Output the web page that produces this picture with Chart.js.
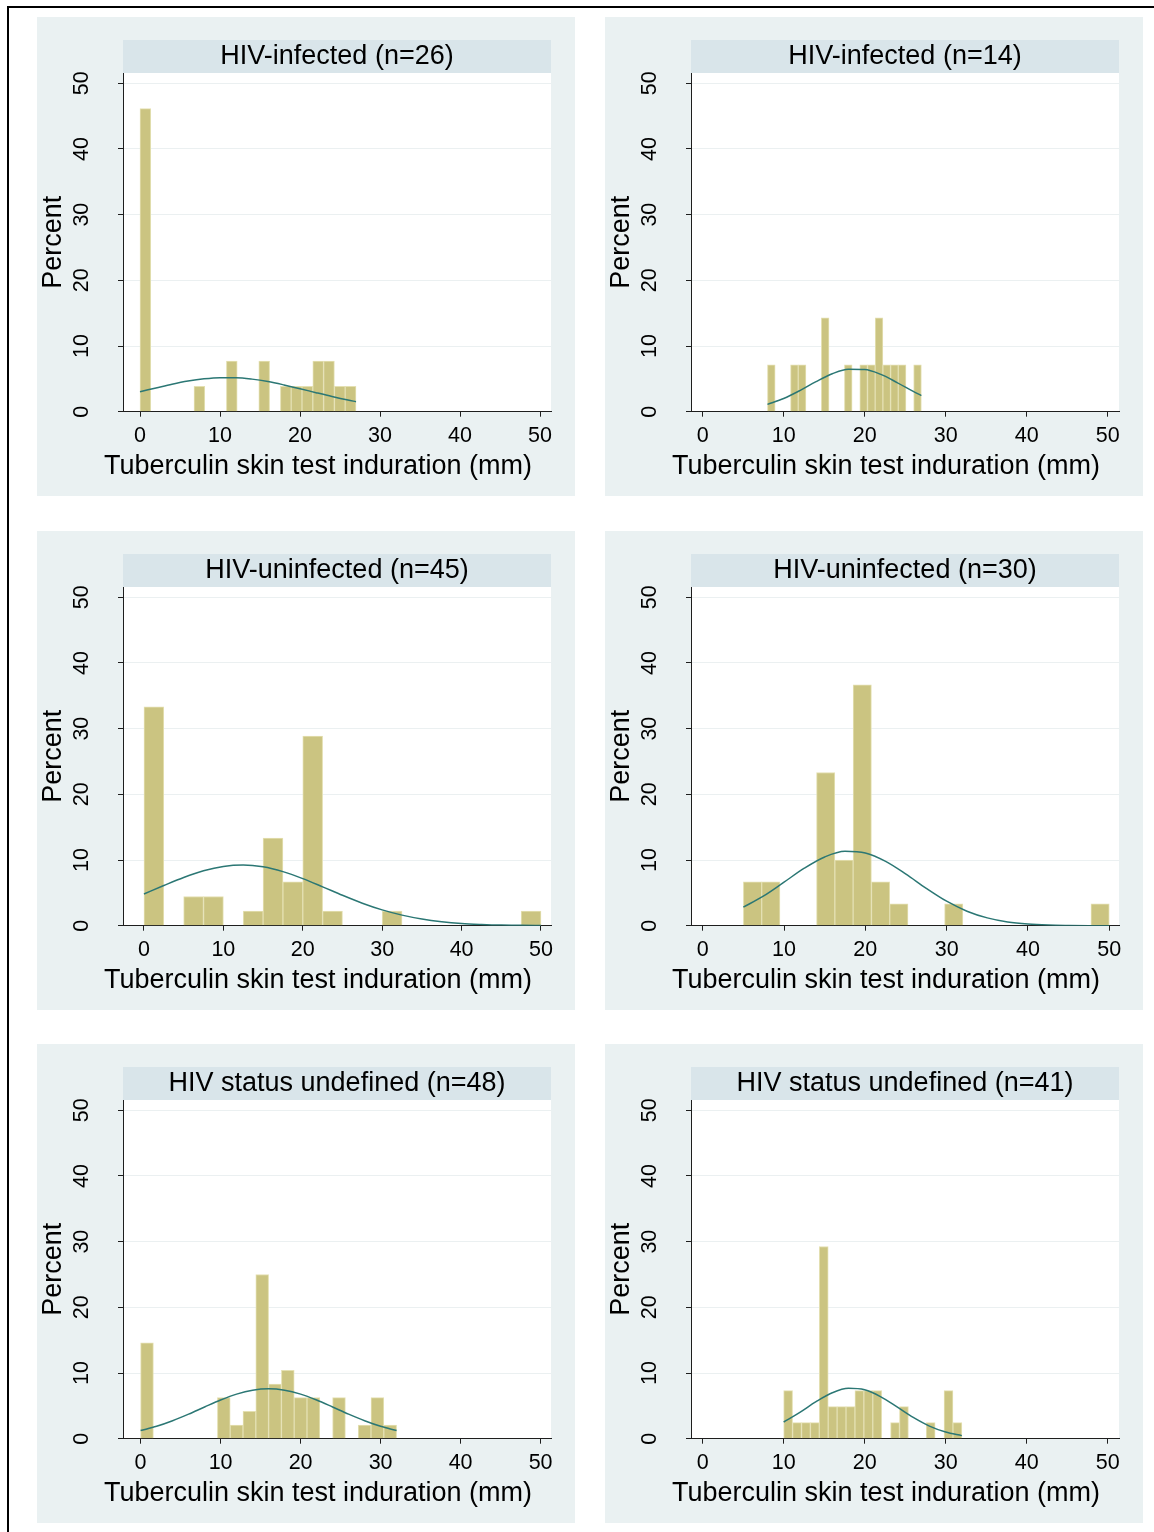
<!DOCTYPE html>
<html>
<head>
<meta charset="utf-8">
<title>Tuberculin skin test induration by HIV status</title>
<script src="https://cdn.jsdelivr.net/npm/chart.js@4.4.1/dist/chart.umd.min.js"></script>
<style>
  html, body { margin: 0; padding: 0; background: #ffffff; overflow: hidden; }
  body { width: 1154px; height: 1532px; position: relative; }
  #frame { position: absolute; left: 7px; top: 6px; right: 0; bottom: 0;
           border-top: 2px solid #000; border-left: 2px solid #000; }
  canvas.panel { position: absolute; background: #eaf1f2; }
</style>
</head>
<body>
<div id="frame"></div>
<canvas class="panel" id="p0" width="538" height="479" style="left:37px;top:17px"></canvas>
<canvas class="panel" id="p1" width="538" height="479" style="left:605px;top:17px"></canvas>
<canvas class="panel" id="p2" width="538" height="479" style="left:37px;top:531px"></canvas>
<canvas class="panel" id="p3" width="538" height="479" style="left:605px;top:531px"></canvas>
<canvas class="panel" id="p4" width="538" height="479" style="left:37px;top:1044px"></canvas>
<canvas class="panel" id="p5" width="538" height="479" style="left:605px;top:1044px"></canvas>
<script>
// ---- Data -------------------------------------------------------------
const panelTitles = [
  'HIV-infected (n=26)', 'HIV-infected (n=14)',
  'HIV-uninfected (n=45)', 'HIV-uninfected (n=30)',
  'HIV status undefined (n=48)', 'HIV status undefined (n=41)'
];
const xAxisTitle = 'Tuberculin skin test induration (mm)';
const yAxisTitle = 'Percent';
const xTickValues = [0, 10, 20, 30, 40, 50];
const yTickValues = [0, 10, 20, 30, 40, 50];

// Histogram bins: 20 bins per panel, lower edge of first bin and bin width (mm)
const binStart = [0, 8, 0, 5, 0, 10];
const binWidth = [1.35, 0.95, 2.5, 2.25, 1.6, 1.1];

// Percent of subjects in each bin
const pctInfectedA   = [46.15, 0, 0, 0, 0, 3.85, 0, 0, 7.69, 0, 0, 7.69, 0, 3.85, 3.85, 3.85, 7.69, 7.69, 3.85, 3.85];
const pctInfectedB   = [7.14, 0, 0, 7.14, 7.14, 0, 0, 14.29, 0, 0, 7.14, 0, 7.14, 7.14, 14.29, 7.14, 7.14, 7.14, 0, 7.14];
const pctUninfectedA = [33.33, 0, 4.44, 4.44, 0, 2.22, 13.33, 6.67, 28.89, 2.22, 0, 0, 2.22, 0, 0, 0, 0, 0, 0, 2.22];
const pctUninfectedB = [6.67, 6.67, 0, 0, 23.33, 10, 36.67, 6.67, 3.33, 0, 0, 3.33, 0, 0, 0, 0, 0, 0, 0, 3.33];
const pctUndefinedA  = [14.58, 0, 0, 0, 0, 0, 6.25, 2.08, 4.17, 25, 8.33, 10.42, 6.25, 6.25, 0, 6.25, 0, 2.08, 6.25, 2.08];
const pctUndefinedB  = [7.32, 2.44, 2.44, 2.44, 29.27, 4.88, 4.88, 4.88, 7.32, 7.32, 7.32, 0, 2.44, 4.88, 0, 0, 2.44, 0, 7.32, 2.44];

// Normal density overlay (percent scale)
const normXInfectedA   = [0, 2, 4, 6, 8, 10, 12, 14, 16, 18, 20, 22, 24, 26, 27];
const normYInfectedA   = [3.05, 3.62, 4.19, 4.67, 5.01, 5.18, 5.17, 4.96, 4.59, 4.08, 3.51, 2.90, 2.31, 1.77, 1.53];
const normXInfectedB   = [8, 10, 12, 14, 16, 18, 20, 22, 24, 26, 27];
const normYInfectedB   = [1.11, 2.01, 3.22, 4.58, 5.78, 6.47, 6.43, 5.68, 4.44, 3.09, 2.46];
const normXUninfectedA = [0, 2.5, 5, 7.5, 10, 12.5, 15, 17.5, 20, 22.5, 25, 27.5, 30, 32.5, 35, 37.5, 40, 42.5, 45, 47.5, 50];
const normYUninfectedA = [4.83, 6.12, 7.35, 8.37, 9.03, 9.24, 8.96, 8.23, 7.17, 5.92, 4.63, 3.43, 2.41, 1.61, 1.02, 0.61, 0.34, 0.19, 0.09, 0.05, 0.02];
const normXUninfectedB = [5, 7.5, 10, 12.5, 15, 17.5, 20, 22.5, 25, 27.5, 30, 32.5, 35, 37.5, 40, 42.5, 45, 47.5, 50];
const normYUninfectedB = [2.82, 4.54, 6.63, 8.76, 10.47, 11.33, 11.08, 9.80, 7.85, 5.69, 3.73, 2.21, 1.19, 0.57, 0.25, 0.10, 0.04, 0.01, 0.00];
const normXUndefinedA  = [0, 2, 4, 6, 8, 10, 12, 14, 16, 18, 20, 22, 24, 26, 28, 30, 32];
const normYUndefinedA  = [1.24, 1.89, 2.74, 3.74, 4.83, 5.89, 6.79, 7.39, 7.60, 7.39, 6.79, 5.89, 4.83, 3.74, 2.74, 1.89, 1.24];
const normXUndefinedB  = [10, 12, 14, 16, 18, 20, 22, 24, 26, 28, 30, 32];
const normYUndefinedB  = [2.54, 4.02, 5.64, 6.99, 7.67, 7.44, 6.38, 4.84, 3.24, 1.92, 1.01, 0.47];

// ---- Layout & style ---------------------------------------------------
const xRange = [
  [-2.125, 51.375], [-1.44, 51.4],
  [-2.64, 51.26],   [-1.44, 51.2],
  [-2.2, 51.3],     [-1.44, 51.4]
];
const Y_MAX = 51.57;
const FONT = '"Liberation Sans", Arial, Helvetica, sans-serif';
const BAR_FILL = '#cbc481';
const BAR_EDGE = '#e4e0b2';
const CURVE = '#2b7774';
const BAND = '#d9e5ea';
const AXIS = '#1e1e1e';
const GRID = '#ebf0f1';

const histograms = [pctInfectedA, pctInfectedB, pctUninfectedA, pctUninfectedB, pctUndefinedA, pctUndefinedB];
const curvesX = [normXInfectedA, normXInfectedB, normXUninfectedA, normXUninfectedB, normXUndefinedA, normXUndefinedB];
const curvesY = [normYInfectedA, normYInfectedB, normYUninfectedA, normYUninfectedB, normYUndefinedA, normYUndefinedB];

// White plot region, title band above it, and the x-axis title below
const panelDecor = {
  id: 'panelDecor',
  beforeDraw(chart, args, opts) {
    const { ctx, chartArea } = chart;
    const w = chartArea.right - chartArea.left;
    const h = 33;
    ctx.save();
    ctx.fillStyle = '#ffffff';
    ctx.fillRect(chartArea.left, chartArea.top, w, chartArea.bottom - chartArea.top);
    ctx.fillStyle = BAND;
    ctx.fillRect(chartArea.left, chartArea.top - h, w, h);
    ctx.fillStyle = '#000';
    ctx.font = '27px ' + FONT;
    ctx.textAlign = 'center';
    ctx.textBaseline = 'middle';
    ctx.fillText(opts.title, (chartArea.left + chartArea.right) / 2, chartArea.top - h / 2 + 0.5);
    ctx.fillText(opts.xTitle, chartArea.left + w / 2 - 19, chartArea.bottom + 55);
    ctx.restore();
  }
};

function buildPanel(i) {
  const bars = histograms[i].map((v, k) => ({
    x: binStart[i] + (k + 0.5) * binWidth[i],
    y: v > 0 ? v : null
  }));
  const curve = curvesX[i].map((x, k) => ({ x: x, y: curvesY[i][k] }));

  new Chart(document.getElementById('p' + i), {
    type: 'bar',
    data: {
      datasets: [
        {
          type: 'line', data: curve, order: 0,
          borderColor: CURVE, borderWidth: 1.5, pointRadius: 0,
          cubicInterpolationMode: 'monotone', fill: false
        },
        {
          type: 'bar', data: bars, order: 1,
          backgroundColor: BAR_FILL, borderColor: BAR_EDGE, borderWidth: 1,
          barPercentage: 1, categoryPercentage: 1
        }
      ]
    },
    options: {
      responsive: false,
      animation: false,
      devicePixelRatio: 1,
      layout: { padding: { top: 56, right: 24, left: 0, bottom: 0 } },
      plugins: {
        legend: { display: false },
        tooltip: { enabled: false },
        panelDecor: { title: panelTitles[i], xTitle: xAxisTitle }
      },
      scales: {
        x: {
          type: 'linear', min: xRange[i][0], max: xRange[i][1], offset: false,
          afterBuildTicks: s => { s.ticks = xTickValues.map(v => ({ value: v })); },
          afterFit: s => { s.height = 84.3; },
          grid: { offset: false, drawOnChartArea: false, drawTicks: true, tickLength: 5, color: AXIS },
          border: { display: true, color: AXIS, width: 1 },
          ticks: { color: '#000', font: { family: FONT, size: 21.5 }, padding: 6,
                   maxRotation: 0, autoSkip: false }
        },
        y: {
          type: 'linear', min: 0, max: Y_MAX,
          afterBuildTicks: s => { s.ticks = yTickValues.map(v => ({ value: v })); },
          afterFit: s => { s.width = 86; },
          grid: { color: GRID, tickColor: AXIS, tickLength: 5, lineWidth: 1 },
          border: { display: true, color: AXIS, width: 1 },
          ticks: { color: '#000', font: { family: FONT, size: 21.5 }, padding: 24,
                   minRotation: 90, maxRotation: 90, crossAlign: 'center' },
          title: { display: true, text: yAxisTitle, color: '#000',
                   font: { family: FONT, size: 27, lineHeight: 1.1 },
                   padding: { top: 2, bottom: 0 } }
        }
      }
    },
    plugins: [panelDecor]
  });
}

for (let i = 0; i < 6; i++) buildPanel(i);
</script>
</body>
</html>
